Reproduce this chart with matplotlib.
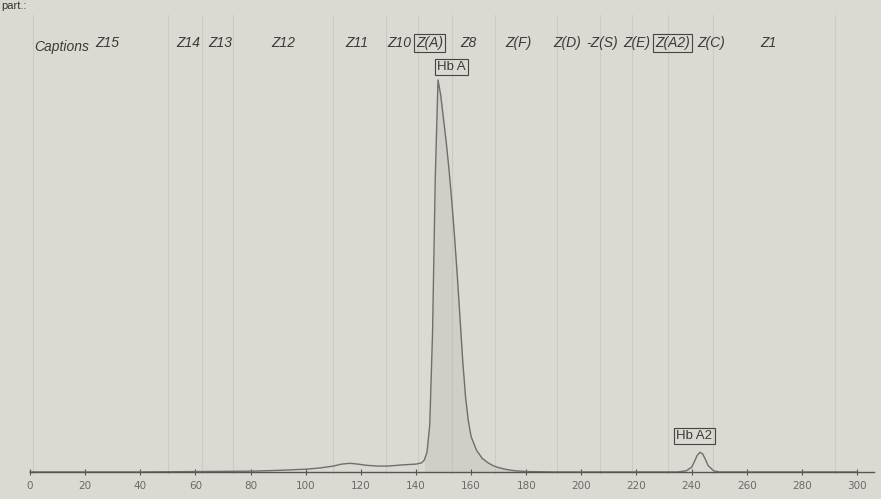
import matplotlib.pyplot as plt

# electropherogram trace (relative absorbance, Hb A peak = 100)
trace_x = [0, 20, 40, 60, 80, 90, 100, 105, 110, 113, 116, 119, 122, 126, 130, 135, 140, 142,
           143, 144, 145, 146, 147, 148, 149, 150, 151, 152, 153, 154, 155, 156, 157, 158,
           159, 160, 162, 164, 166, 168, 170, 173, 176, 180, 190, 200, 220, 235,
           238, 240, 241, 242, 243, 244, 245, 246, 248, 250, 260, 280, 300]
trace_y = [0, 0, 0, 0.1, 0.2, 0.4, 0.7, 1.0, 1.5, 2.0, 2.2, 2.0, 1.7, 1.5, 1.5, 1.8, 2.0, 2.3,
           3.0, 5.0, 12, 35, 75, 100, 96, 90, 84, 77, 69, 60, 50, 39, 28, 19,
           13, 9, 5.5, 3.5, 2.4, 1.6, 1.1, 0.6, 0.3, 0.1, 0, 0, 0, 0,
           0.3, 1.2, 2.6, 4.2, 5.0, 4.6, 3.2, 1.6, 0.3, 0, 0, 0, 0]

# zone captions across the top
zone_names = ["Z15", "Z14", "Z13", "Z12", "Z11", "Z10", "Z(A)", "Z8", "Z(F)",
              "Z(D)", "-Z(S)", "Z(E)", "Z(A2)", "Z(C)", "Z1"]
zone_pos = [28, 57.5, 69, 92, 118.5, 134, 145, 159, 177, 195, 207.5, 220, 233, 247, 268]
zone_boxed = ["Z(A)", "Z(A2)"]
zone_bounds = [1, 50, 62.5, 73.5, 110, 129, 140.7, 153, 168.7, 191, 206.7, 218.4,
               231.4, 247.7, 292]

# fraction labels
peak_names = ["Hb A", "Hb A2"]
peak_label_x = [153, 241]
peak_label_y = [103.3, 9.2]

ticks = list(range(0, 301, 20))

bg = "#dcd9d2"
fig = plt.figure(figsize=(8.81, 4.99), dpi=100, facecolor=bg)
ax = fig.add_axes([0, 0, 1, 1], facecolor=bg)
ax.set_xlim(-10.9, 308.7)
ax.set_ylim(-6.9, 120.4)

for b in zone_bounds:
    ax.axvline(b, ymin=0.05, ymax=0.97, color="#cdcac3", lw=0.8, zorder=0)

hb_x = [x for x in trace_x if 143 <= x <= 176]
hb_y = [y for x, y in zip(trace_x, trace_y) if 143 <= x <= 176]
ax.fill_between(hb_x, 0, hb_y, color="#bdbab3", alpha=0.35, lw=0, zorder=1)
ax.plot(trace_x, trace_y, color="#6e6e6e", lw=1.0, zorder=2)

font = ["Liberation Sans", "DejaVu Sans"]
ax.text(1.5, 108.5, "Captions", family=font, style="italic", fontsize=10,
        color="#3a3a3a", ha="left", va="center")
for name, x in zip(zone_names, zone_pos):
    box = None
    if name in zone_boxed:
        box = dict(boxstyle="square,pad=0.15", fc="none", ec="#444444", lw=0.8)
    ax.text(x, 109.5, name, family=font, style="italic", fontsize=10,
            color="#3a3a3a", ha="center", va="center", bbox=box)

for name, x, y in zip(peak_names, peak_label_x, peak_label_y):
    ax.text(x, y, name, family=font, fontsize=9.5, color="#3a3a3a", ha="center",
            va="center", bbox=dict(boxstyle="square,pad=0.18", fc="none",
                                   ec="#444444", lw=0.8))

fig.text(0.002, 0.998, "part.:", family=font, fontsize=8, color="#333333",
         ha="left", va="top")

for s in ["top", "right", "left"]:
    ax.spines[s].set_visible(False)
ax.spines["bottom"].set_position(("data", 0))
ax.spines["bottom"].set_bounds(0, 306)
ax.spines["bottom"].set_color("#555555")
ax.spines["bottom"].set_linewidth(1.0)
ax.set_yticks([])
ax.set_xticks(ticks)
ax.tick_params(axis="x", direction="inout", length=5, width=0.8, color="#555555",
               labelsize=7.5, labelcolor="#6a6a6a", pad=4)

fig.savefig("out.png", dpi=100, facecolor=bg)
